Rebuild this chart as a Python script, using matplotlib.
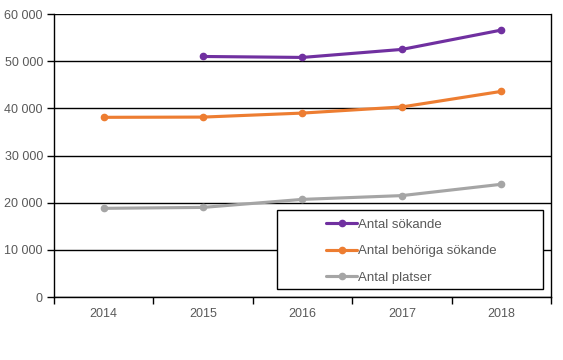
import matplotlib.pyplot as plt
from matplotlib.patches import Rectangle
from matplotlib.ticker import FuncFormatter, FixedLocator
import numpy as np

plt.rcParams['font.family'] = ['Liberation Sans', 'DejaVu Sans']

# data
years = ['2014', '2015', '2016', '2017', '2018']
sokande = [np.nan, 51000, 50800, 52500, 56600]
behoriga = [38100, 38150, 39000, 40300, 43600]
platser = [18800, 19000, 20700, 21500, 23900]

labels = ['Antal sökande', 'Antal behöriga sökande', 'Antal platser']
colors = ['#7030A0', '#ED7D31', '#A5A5A5']
txt_col = '#595959'

fig = plt.figure(figsize=(5.63, 3.6), dpi=100)
ax = fig.add_axes([0.0959, 0.175, 0.8828, 0.786])

x = np.arange(len(years))
lines = []
for vals, lab, c in zip([sokande, behoriga, platser], labels, colors):
    l, = ax.plot(x, vals, color=c, lw=2.25, marker='o', ms=4.5, label=lab,
                 solid_capstyle='round')
    lines.append(l)

ax.set_xlim(-0.5, 4.5)
ax.set_ylim(0, 60000)
ax.set_yticks(np.arange(0, 60001, 10000))
ax.yaxis.set_major_formatter(FuncFormatter(lambda v, p: f'{int(v):,}'.replace(',', ' ')))
ax.set_xticks(x)
ax.set_xticklabels(years)
ax.xaxis.set_minor_locator(FixedLocator(np.arange(-0.5, 4.6, 1)))
ax.tick_params(axis='x', which='major', length=0, pad=8, labelsize=9, labelcolor=txt_col)
ax.tick_params(axis='x', which='minor', length=5, width=1, direction='out')
ax.tick_params(axis='y', length=5, width=1, direction='out', pad=3,
               labelsize=9, labelcolor=txt_col)

ax.grid(axis='y', color='black', lw=1)
ax.set_axisbelow(True)
for s in ['left', 'right', 'bottom']:
    ax.spines[s].set_linewidth(1)
ax.spines['top'].set_visible(False)

# legend box
rect = Rectangle((0.449, 0.028), 0.535, 0.279, transform=ax.transAxes,
                 facecolor='white', edgecolor='black', lw=1, zorder=5)
ax.add_patch(rect)
leg = ax.legend(lines, labels, loc='upper left', bbox_to_anchor=(0.548, 0.278),
                frameon=False, fontsize=9.5, handlelength=2.3, handletextpad=0.1,
                labelspacing=1.1, borderaxespad=0, borderpad=0)
leg.set_zorder(6)
for t in leg.get_texts():
    t.set_color(txt_col)

fig.savefig('out.png', dpi=100)
